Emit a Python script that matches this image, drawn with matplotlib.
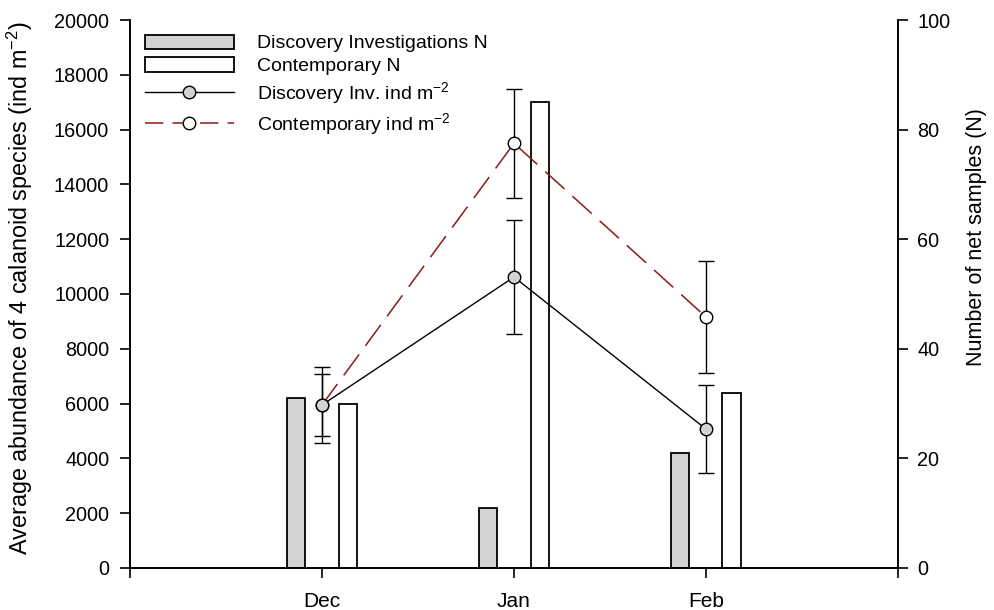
import numpy as np
import matplotlib
matplotlib.use("Agg")
import matplotlib.pyplot as plt
from matplotlib.patches import Patch
from matplotlib.lines import Line2D

plt.rcParams['font.family'] = ['Liberation Sans', 'DejaVu Sans']
plt.rcParams['mathtext.default'] = 'regular'

# months and sample counts per survey
months = ['Dec', 'Jan', 'Feb']
n_discovery = [31, 11, 21]
n_contemporary = [30, 85, 32]

# mean abundance (ind m-2) with error
abund_discovery = [5950, 10620, 5070]
err_discovery = [1120, 2070, 1600]
abund_contemporary = [5950, 15500, 9160]
err_contemporary = [1400, 1980, 2060]

x = np.arange(1, len(months) + 1)

fig = plt.figure(figsize=(9.94, 6.10), dpi=100)
ax = fig.add_axes([0.1308, 0.0689, 0.7726, 0.8983])
ax2 = ax.twinx()

# bars go on the N axis, underneath the abundance lines
bw = 0.094
off = 0.133
ax2.bar(x - off, n_discovery, bw, color='#d3d3d3', edgecolor='black', linewidth=1.3)
ax2.bar(x + off, n_contemporary, bw, color='white', edgecolor='black', linewidth=1.3)
ax2.set_ylim(0, 100)
ax2.set_yticks(np.arange(0, 101, 20))
ax2.set_ylabel('Number of net samples (N)', fontsize=15.5)
ax2.yaxis.set_label_coords(1.089, 0.604)

ax.set_zorder(ax2.get_zorder() + 1)
ax.patch.set_visible(False)

ax.errorbar(x, abund_discovery, yerr=err_discovery, fmt='none', ecolor='black',
            elinewidth=1, capsize=6, capthick=1, zorder=2)
ax.errorbar(x, abund_contemporary, yerr=err_contemporary, fmt='none', ecolor='black',
            elinewidth=1, capsize=6, capthick=1, zorder=2)
ax.plot(x, abund_contemporary, color='#8b1a1a', lw=1.1, dashes=(17, 7), zorder=3)
ax.plot(x, abund_contemporary, ls='none', marker='o', ms=9, mfc='white',
        mec='black', mew=1, zorder=4)
ax.plot(x, abund_discovery, color='black', lw=1, marker='o', ms=9,
        mfc='#d3d3d3', mec='black', mew=1, zorder=5)

ax.set_xlim(0, 4)
ax.set_xticks(np.arange(0, 5))
ax.set_xticklabels([''] + months + [''])
ax.set_ylim(0, 20000)
ax.set_yticks(np.arange(0, 20001, 2000))
ax.set_ylabel('Average abundance of 4 calanoid species (ind m$^{-2}$)', fontsize=16.8)
ax.yaxis.set_label_coords(-0.124, 0.51)

for a in (ax, ax2):
    a.spines['top'].set_visible(False)
    for s in a.spines.values():
        s.set_linewidth(1.2)
ax.tick_params(axis='x', length=7, width=1.2, pad=10, labelsize=15)
ax.tick_params(axis='y', length=7, width=1.2, pad=8, labelsize=14.3)
ax2.tick_params(axis='y', length=7, width=1.2, pad=7, labelsize=14.3)

handles = [
    Patch(facecolor='#d3d3d3', edgecolor='black', linewidth=1.3),
    Patch(facecolor='white', edgecolor='black', linewidth=1.3),
    Line2D([], [], color='black', lw=1, marker='o', ms=9, mfc='#d3d3d3', mec='black'),
    Line2D([], [], color='#8b1a1a', lw=1.1, dashes=(12, 6), marker='o', ms=9,
           mfc='white', mec='black'),
]
labels = ['Discovery Investigations N', 'Contemporary N',
          'Discovery Inv. ind m$^{-2}$', 'Contemporary ind m$^{-2}$']
ax.legend(handles, labels, loc='upper left', frameon=False, fontsize=14,
          handlelength=4.6, handleheight=0.75, handletextpad=1.2,
          labelspacing=0.25, borderaxespad=0.35)

fig.savefig('out.png', dpi=100)
